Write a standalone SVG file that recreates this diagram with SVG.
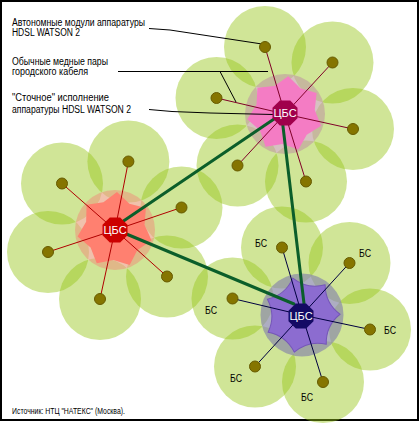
<svg xmlns="http://www.w3.org/2000/svg" xmlns:xlink="http://www.w3.org/1999/xlink" width="420" height="423" viewBox="0 0 420 423">
<style>
.petal{fill:#96c618;fill-opacity:0.45}
.dot{fill:#857500;stroke:#675b00;stroke-width:1}
.sp1{stroke:#800028;stroke-width:1}
.sp2{stroke:#b00000;stroke-width:1}
.sp3{stroke:#000040;stroke-width:1}
.trunk{stroke:#0b5e2a;stroke-width:3;stroke-linecap:round}
.lead{stroke:#000;stroke-width:1;fill:none}
.lbl{font-family:"Liberation Sans",Arial,sans-serif;font-size:10px;fill:#000}
.bs{font-family:"Liberation Sans",Arial,sans-serif;font-size:10px;fill:#000;text-anchor:middle}
.cbs{font-family:"Liberation Sans",Arial,sans-serif;font-size:11px;fill:#fff;text-anchor:middle}
.src{font-family:"Liberation Sans",Arial,sans-serif;font-size:8.5px;fill:#000}
</style>
<defs>
<path id="starC" d="M38,0 Q23.43,11.28 23.69,29.71 Q5.79,25.35 -8.46,37.05 Q-16.21,20.33 -34.24,16.49 Q-26,0 -34.24,-16.49 Q-16.21,-20.33 -8.46,-37.05 Q5.79,-25.35 23.69,-29.71 Q23.43,-11.28 38,0Z"/>
<polygon id="starP" points="38,0 27.03,13.02 23.69,29.71 6.68,29.25 -8.46,37.05 -18.71,23.45 -34.24,16.49 -30,0 -34.24,-16.49 -18.71,-23.45 -8.46,-37.05 6.68,-29.25 23.69,-29.71 27.03,-13.02"/>
<polygon id="oct" points="12.5,5.18 5.18,12.5 -5.18,12.5 -12.5,5.18 -12.5,-5.18 -5.18,-12.5 5.18,-12.5 12.5,-5.18"/>
</defs>
<rect x="0" y="0" width="420" height="423" fill="#fff"/>
<rect x="1" y="1" width="417" height="419" fill="none" stroke="#000" stroke-width="2"/>

<g id="petals">
<circle class="petal" cx="265" cy="47" r="41"/>
<circle class="petal" cx="332.5" cy="62.5" r="41"/>
<circle class="petal" cx="353" cy="129" r="41"/>
<circle class="petal" cx="306" cy="181.5" r="41"/>
<circle class="petal" cx="237.5" cy="165.5" r="41"/>
<circle class="petal" cx="216.5" cy="98" r="41"/>
<circle class="petal" cx="128.4" cy="161.5" r="41"/>
<circle class="petal" cx="181.5" cy="207.5" r="41"/>
<circle class="petal" cx="167" cy="276.5" r="41"/>
<circle class="petal" cx="100" cy="299" r="41"/>
<circle class="petal" cx="48" cy="252" r="41"/>
<circle class="petal" cx="62" cy="183.5" r="41"/>
<circle class="petal" cx="282" cy="247.5" r="41"/>
<circle class="petal" cx="349.5" cy="263" r="41"/>
<circle class="petal" cx="370" cy="329.5" r="41"/>
<circle class="petal" cx="323" cy="382" r="41"/>
<circle class="petal" cx="255" cy="366.5" r="41"/>
<circle class="petal" cx="232.5" cy="298.5" r="41"/>
</g>

<g id="hub-areas">
<circle cx="285" cy="114" r="40" fill="#c0a0a0" fill-opacity="0.65"/>
<use xlink:href="#starP" transform="translate(285,114) rotate(-85)" fill="#f47cc4"/>
<circle cx="115" cy="230" r="40" fill="#e8a080" fill-opacity="0.65"/>
<use xlink:href="#starP" transform="translate(115,230) rotate(-87)" fill="#ff8070"/>
<circle cx="302" cy="315" r="41.5" fill="#8a8aa8" fill-opacity="0.7"/>
<use xlink:href="#starC" transform="translate(302,315) rotate(-104)" fill="#8c6cd0" stroke="#7556b8" stroke-width="1"/>
</g>

<g id="connectors">
<line class="sp1" x1="285" y1="114" x2="265" y2="47"/>
<line class="sp1" x1="285" y1="114" x2="332.5" y2="62.5"/>
<line class="sp1" x1="285" y1="114" x2="353" y2="129"/>
<line class="sp1" x1="285" y1="114" x2="306" y2="181.5"/>
<line class="sp1" x1="285" y1="114" x2="237.5" y2="165.5"/>
<line class="sp1" x1="285" y1="114" x2="216.5" y2="98"/>
<line class="sp2" x1="115" y1="230" x2="128.4" y2="161.5"/>
<line class="sp2" x1="115" y1="230" x2="181.5" y2="207.5"/>
<line class="sp2" x1="115" y1="230" x2="167" y2="276.5"/>
<line class="sp2" x1="115" y1="230" x2="100" y2="299"/>
<line class="sp2" x1="115" y1="230" x2="48" y2="252"/>
<line class="sp2" x1="115" y1="230" x2="62" y2="183.5"/>
<line class="sp3" x1="302" y1="315" x2="282" y2="247.5"/>
<line class="sp3" x1="302" y1="315" x2="349.5" y2="263"/>
<line class="sp3" x1="302" y1="315" x2="370" y2="329.5"/>
<line class="sp3" x1="302" y1="315" x2="323" y2="382"/>
<line class="sp3" x1="302" y1="315" x2="255" y2="366.5"/>
<line class="sp3" x1="302" y1="315" x2="232.5" y2="298.5"/>
<line class="trunk" x1="277" y1="117" x2="122" y2="222"/>
<line class="trunk" x1="282" y1="118" x2="305" y2="312"/>
<line class="trunk" x1="124" y1="233" x2="294" y2="304"/>
<polyline class="lead" points="149,28.5 170,30 262,44"/>
<line class="lead" x1="118" y1="71.5" x2="268" y2="71.5"/>
<line class="lead" x1="220" y1="71.5" x2="236" y2="102"/>
<polyline class="lead" points="149,109.5 172,111.5 210,113 273,114.5"/>
</g>

<g id="bs-dots">
<circle class="dot" cx="265" cy="47" r="5.5"/>
<circle class="dot" cx="332.5" cy="62.5" r="5.5"/>
<circle class="dot" cx="353" cy="129" r="5.5"/>
<circle class="dot" cx="306" cy="181.5" r="5.5"/>
<circle class="dot" cx="237.5" cy="165.5" r="5.5"/>
<circle class="dot" cx="216.5" cy="98" r="5.5"/>
<circle class="dot" cx="128.4" cy="161.5" r="5.5"/>
<circle class="dot" cx="181.5" cy="207.5" r="5.5"/>
<circle class="dot" cx="167" cy="276.5" r="5.5"/>
<circle class="dot" cx="100" cy="299" r="5.5"/>
<circle class="dot" cx="48" cy="252" r="5.5"/>
<circle class="dot" cx="62" cy="183.5" r="5.5"/>
<circle class="dot" cx="282" cy="247.5" r="5.5"/>
<circle class="dot" cx="349.5" cy="263" r="5.5"/>
<circle class="dot" cx="370" cy="329.5" r="5.5"/>
<circle class="dot" cx="323" cy="382" r="5.5"/>
<circle class="dot" cx="255" cy="366.5" r="5.5"/>
<circle class="dot" cx="232.5" cy="298.5" r="5.5"/>
</g>

<g id="cbs1">
<use xlink:href="#oct" transform="translate(285,113)" fill="#a0004c"/>
<text class="cbs" x="285" y="117">ЦБС</text>
</g>
<g id="cbs2">
<use xlink:href="#oct" transform="translate(115,230)" fill="#cc0000"/>
<text class="cbs" x="115" y="234">ЦБС</text>
</g>
<g id="cbs3">
<use xlink:href="#oct" transform="translate(301,316)" fill="#140a64"/>
<text class="cbs" x="301" y="320">ЦБС</text>
</g>

<g id="bs-labels">
<text class="bs" x="261" y="247" textLength="12" lengthAdjust="spacingAndGlyphs">БС</text>
<text class="bs" x="365" y="257" textLength="12" lengthAdjust="spacingAndGlyphs">БС</text>
<text class="bs" x="211" y="314" textLength="12" lengthAdjust="spacingAndGlyphs">БС</text>
<text class="bs" x="390" y="334" textLength="12" lengthAdjust="spacingAndGlyphs">БС</text>
<text class="bs" x="236" y="382" textLength="12" lengthAdjust="spacingAndGlyphs">БС</text>
<text class="bs" x="307" y="401" textLength="12" lengthAdjust="spacingAndGlyphs">БС</text>
</g>

<g id="labels">
<text class="lbl" x="12" y="25.5" textLength="133" lengthAdjust="spacingAndGlyphs">Автономные модули аппаратуры</text>
<text class="lbl" x="12" y="36" textLength="68" lengthAdjust="spacingAndGlyphs">HDSL WATSON 2</text>
<text class="lbl" x="12" y="65" textLength="96" lengthAdjust="spacingAndGlyphs">Обычные медные пары</text>
<text class="lbl" x="12" y="74.5" textLength="76" lengthAdjust="spacingAndGlyphs">городского кабеля</text>
<text class="lbl" x="12" y="101" textLength="97" lengthAdjust="spacingAndGlyphs">"Сточное" исполнение</text>
<text class="lbl" x="12" y="112.5" textLength="119" lengthAdjust="spacingAndGlyphs">аппаратуры HDSL WATSON 2</text>
<text class="src" x="12" y="414" textLength="113" lengthAdjust="spacingAndGlyphs">Источник: НТЦ "НАТЕКС" (Москва).</text>
</g>
</svg>
